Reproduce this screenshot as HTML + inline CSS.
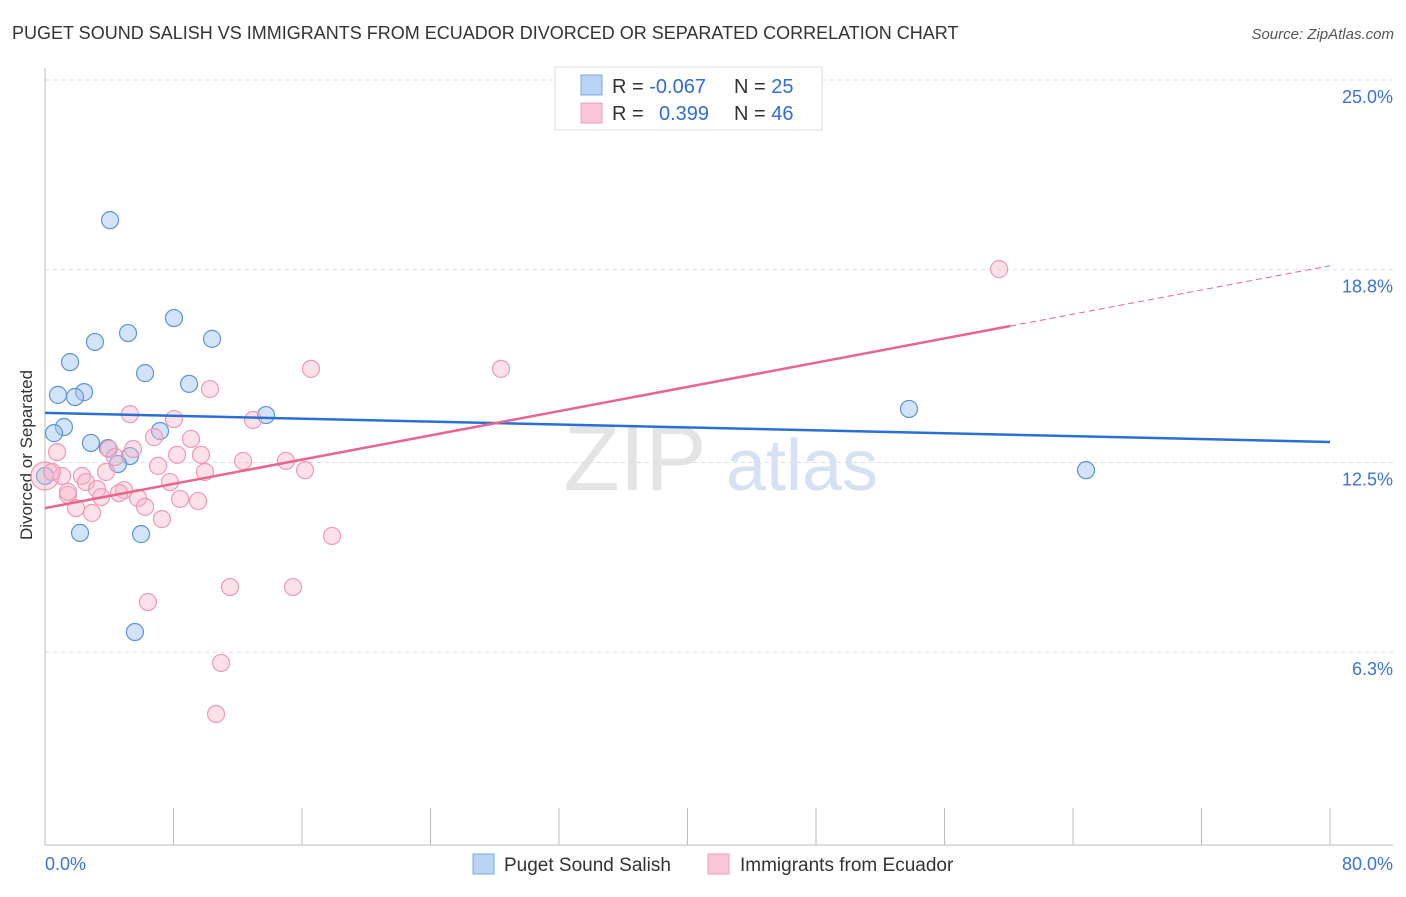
<!DOCTYPE html>
<html><head><meta charset="utf-8"><style>
body{margin:0;background:#fff;font-family:"Liberation Sans",sans-serif;}
svg text{font-family:"Liberation Sans",sans-serif;}
</style></head><body>
<svg id="c" width="1406" height="892" xmlns="http://www.w3.org/2000/svg">
<text x="12" y="39" font-size="18" fill="#333">PUGET SOUND SALISH VS IMMIGRANTS FROM ECUADOR DIVORCED OR SEPARATED CORRELATION CHART</text>
<text x="1394" y="39" font-size="15" fill="#555" font-style="italic" text-anchor="end">Source: ZipAtlas.com</text>
<text x="32" y="455" font-size="17" fill="#333" text-anchor="middle" transform="rotate(-90 32 455)">Divorced or Separated</text>
<g>
<text x="635" y="490" font-size="92" fill="#e4e4e4" font-family="Liberation Serif" text-anchor="middle">ZIP</text>
<text x="802" y="490" font-size="72" fill="#d6e2f3" text-anchor="middle">atlas</text>
</g>
<g id="grid"></g>
<g id="axes"></g>
<g id="pts"></g>
<g id="lines"></g>
<g>
<rect x="555" y="67" width="267" height="63" fill="#fff" stroke="#ddd"/>
<rect x="581" y="75" width="21" height="20" fill="#b8d3f5" stroke="#7aa8e0"/>
<rect x="581" y="103" width="21" height="20" fill="#fac6d6" stroke="#ee9fba"/>
<text x="612" y="93" font-size="20" fill="#333">R = <tspan fill="#2f6fd0">-0.067</tspan></text>
<text x="734" y="93" font-size="20" fill="#333">N = <tspan fill="#2f6fd0">25</tspan></text>
<text x="612" y="120" font-size="20" fill="#333">R = </text>
<text x="659" y="120" font-size="20" fill="#2f6fd0">0.399</text>
<text x="734" y="120" font-size="20" fill="#333">N = <tspan fill="#2f6fd0">46</tspan></text>
</g>
<g>
<rect x="473" y="854" width="21" height="20" fill="#b8d3f5" stroke="#7aa8e0"/>
<text x="504" y="871" font-size="19" fill="#333">Puget Sound Salish</text>
<rect x="708" y="854" width="21" height="20" fill="#fac6d6" stroke="#ee9fba"/>
<text x="740" y="871" font-size="19" fill="#333">Immigrants from Ecuador</text>
</g>
</svg>
<script>
const blueX=[4.05,5.17,8.03,10.40,3.11,1.56,6.23,8.97,0.81,2.43,1.87,1.18,0.56,13.76,7.16,2.86,3.92,5.29,4.54,0,2.18,5.98,5.60,53.79,64.81];
const blueY=[20.42,16.73,17.22,16.54,16.44,15.78,15.42,15.07,14.71,14.80,14.64,13.66,13.46,14.05,13.53,13.14,12.97,12.71,12.45,12.06,10.20,10.16,6.96,14.25,12.25];
const pinkX=[59.40,16.56,28.39,10.27,5.29,8.03,12.95,6.79,9.09,3.98,5.48,0.75,9.71,8.22,15.00,12.33,3.80,7.04,9.96,16.19,2.30,1.06,0,0.44,7.78,2.55,3.24,1.43,3.49,4.92,4.61,5.79,8.41,9.53,6.23,1.93,2.93,7.28,17.87,6.41,11.52,15.44,10.96,10.65,4.36,1.43];
const pinkY=[18.82,15.56,15.56,14.90,14.08,13.92,13.89,13.33,13.27,12.94,12.94,12.84,12.75,12.75,12.55,12.55,12.19,12.39,12.19,12.25,12.06,12.06,12.06,12.19,11.86,11.86,11.63,11.44,11.37,11.60,11.50,11.34,11.31,11.24,11.05,11.01,10.85,10.65,10.10,7.94,8.43,8.43,5.95,4.28,12.68,11.54];
const yTicks=[25.0,18.8,12.5,6.3];
const yTickLabels=["25.0%","18.8%","12.5%","6.3%"];
const blueTrend=[14.12,13.17];
const pinkTrend=[11.01,18.93];
const pinkSolidEnd=60.1;
const NS="http://www.w3.org/2000/svg";
const X=v=>45+v/80*1285;
const Y=v=>845-v*30.6;
function mk(t,a,p){const e=document.createElementNS(NS,t);for(const k in a)e.setAttribute(k,a[k]);p.appendChild(e);return e;}
const grid=document.getElementById('grid'),axes=document.getElementById('axes'),pts=document.getElementById('pts'),lines=document.getElementById('lines');
yTicks.forEach((t,i)=>{
 const l=mk('line',{x1:45,x2:1393,y1:Y(t),y2:Y(t),stroke:'#ddd','stroke-dasharray':'4,4'},grid);
 
 
 const tx=mk('text',{x:1393,y:Y(t)+23,'font-size':18,fill:'#3a74d4','text-anchor':'end'},axes);
 tx.textContent=yTickLabels[i];
 
 
});
mk('line',{x1:45,x2:45,y1:68,y2:845,stroke:'#bbb'},axes);
mk('line',{x1:45,x2:1393,y1:845,y2:845,stroke:'#bbb'},axes);
for(let i=0;i<=10;i++){
 const t=mk('line',{x1:X(i*8),x2:X(i*8),y1:808,y2:845,stroke:'#bbb'},axes);
 
 
}
const x0=mk('text',{x:45,y:870,'font-size':18,fill:'#3a74d4'},axes);x0.textContent='0.0%';


const x1=mk('text',{x:1393,y:870,'font-size':18,fill:'#3a74d4','text-anchor':'end'},axes);x1.textContent='80.0%';


blueX.forEach((v,i)=>{
 const c=mk('circle',{cx:X(v),cy:Y(blueY[i]),r:8.5,fill:'rgba(160,196,240,0.45)',stroke:'#5b93dc','stroke-width':1.2},pts);
 
 
});
pinkX.forEach((v,i)=>{
 const c=mk('circle',{cx:X(v),cy:Y(pinkY[i]),r:(v===0?14:8.5),fill:'rgba(248,180,200,0.4)',stroke:'#ee9ab5','stroke-width':1.2},pts);
 
 
});
const bl=mk('line',{x1:X(0),y1:Y(blueTrend[0]),x2:X(80),y2:Y(blueTrend[1]),stroke:'#2a6fd6','stroke-width':2.5},lines);


const pm=pinkTrend[0]+(pinkTrend[1]-pinkTrend[0])*pinkSolidEnd/80;
const pl=mk('line',{x1:X(0),y1:Y(pinkTrend[0]),x2:X(pinkSolidEnd),y2:Y(pm),stroke:'#e8658e','stroke-width':2.5},lines);


const pd=mk('line',{x1:X(pinkSolidEnd),y1:Y(pm),x2:X(80),y2:Y(pinkTrend[1]),stroke:'#e8658e','stroke-width':1,'stroke-dasharray':'6,4'},lines);


</script>
</body></html>
